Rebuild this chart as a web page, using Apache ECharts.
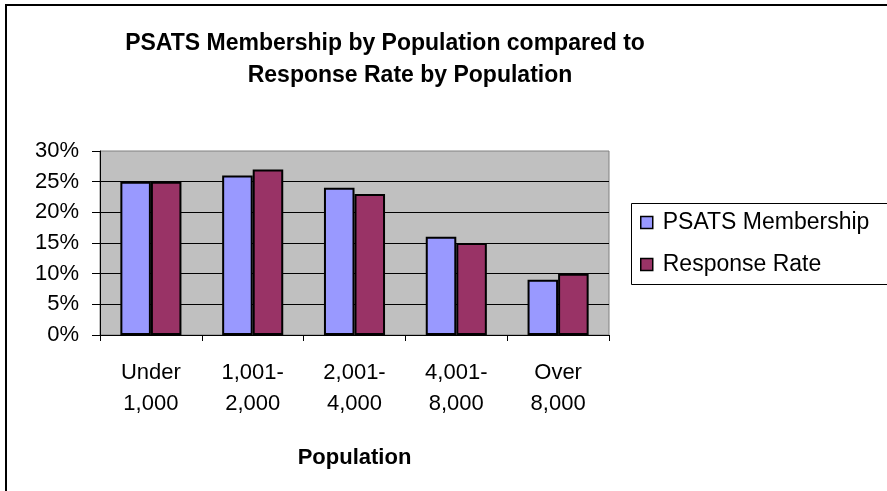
<!DOCTYPE html>
<html>
<head>
<meta charset="utf-8">
<script src="https://cdn.jsdelivr.net/npm/echarts@6/dist/echarts.min.js"></script>
<style>
  html, body { margin: 0; padding: 0; background: #fff; }
  #chart-container { width: 887px; height: 491px; }
</style>
</head>
<body>
<div id="chart-container"></div>
<script>
// data
var categories = ['Under\n1,000', '1,001-\n2,000', '2,001-\n4,000', '4,001-\n8,000', 'Over\n8,000'];
var membership = [25, 26, 24, 16, 9];
var responseRate = [25, 27, 23, 15, 10];
var seriesNames = ['PSATS Membership', 'Response Rate'];
var titleLines = ['PSATS Membership by Population compared to', 'Response Rate by Population'];

var font = "'Liberation Sans', Arial, sans-serif";

var dom = document.getElementById('chart-container');
var myChart = echarts.init(dom, null, { renderer: 'canvas' });

var option = {
  animation: false,
  textStyle: { fontFamily: font },
  title: [
    {
      text: titleLines[0],
      left: 385, top: 32, textAlign: 'center',
      padding: 0,
      textStyle: { fontFamily: font, fontSize: 23, fontWeight: 'bold', color: '#000' }
    },
    {
      text: titleLines[1],
      left: 410, top: 64, textAlign: 'center',
      padding: 0,
      textStyle: { fontFamily: font, fontSize: 23, fontWeight: 'bold', color: '#000' }
    }
  ],
  graphic: [
    // outer chart frame
    { type: 'rect', z: -10, shape: { x: 6, y: 5, width: 1000, height: 1000 },
      style: { fill: 'none', stroke: '#000', lineWidth: 2 } },
    // legend frame
    { type: 'rect', z: -5, shape: { x: 631.5, y: 203.5, width: 300, height: 81 },
      style: { fill: '#fff', stroke: '#000', lineWidth: 1 } }
  ],
  legend: {
    orient: 'vertical',
    left: 640, top: 211,
    padding: 0,
    itemGap: 19,
    itemWidth: 12, itemHeight: 12,
    icon: 'rect',
    data: seriesNames,
    itemStyle: { borderColor: '#000', borderWidth: 1.5 },
    textStyle: { fontFamily: font, fontSize: 23, color: '#000', lineHeight: 22, padding: [0, 0, 0, 5] }
  },
  grid: {
    left: 100, right: 278, top: 151, bottom: 156,
    show: true, backgroundColor: '#C0C0C0', borderColor: '#808080', borderWidth: 1
  },
  xAxis: {
    type: 'category',
    data: categories,
    name: 'Population',
    nameLocation: 'middle',
    nameGap: 112,
    nameTextStyle: { fontFamily: font, fontSize: 22, fontWeight: 'bold', color: '#000' },
    axisLine: { lineStyle: { color: '#000', width: 1 } },
    axisTick: { show: true, length: 6, lineStyle: { color: '#000' } },
    axisLabel: { fontFamily: font, fontSize: 22, color: '#000', lineHeight: 31, margin: 22 }
  },
  yAxis: {
    type: 'value',
    min: 0, max: 30, interval: 5,
    axisLine: { show: true, lineStyle: { color: '#000', width: 1 } },
    axisTick: { show: true, length: 8, lineStyle: { color: '#000' } },
    axisLabel: { fontFamily: font, fontSize: 22, color: '#000', margin: 21, formatter: '{value}%' },
    splitLine: { show: true, showMaxLine: false, lineStyle: { color: '#000', width: 1 } }
  },
  series: [
    {
      name: seriesNames[0],
      type: 'bar',
      data: membership,
      barGap: '0%',
      barCategoryGap: '40%',
      itemStyle: { color: '#9999FF', borderColor: '#000', borderWidth: 2 }
    },
    {
      name: seriesNames[1],
      type: 'bar',
      data: responseRate,
      itemStyle: { color: '#993366', borderColor: '#000', borderWidth: 2 }
    }
  ]
};

myChart.setOption(option);
window.addEventListener('resize', myChart.resize);
</script>
</body>
</html>
